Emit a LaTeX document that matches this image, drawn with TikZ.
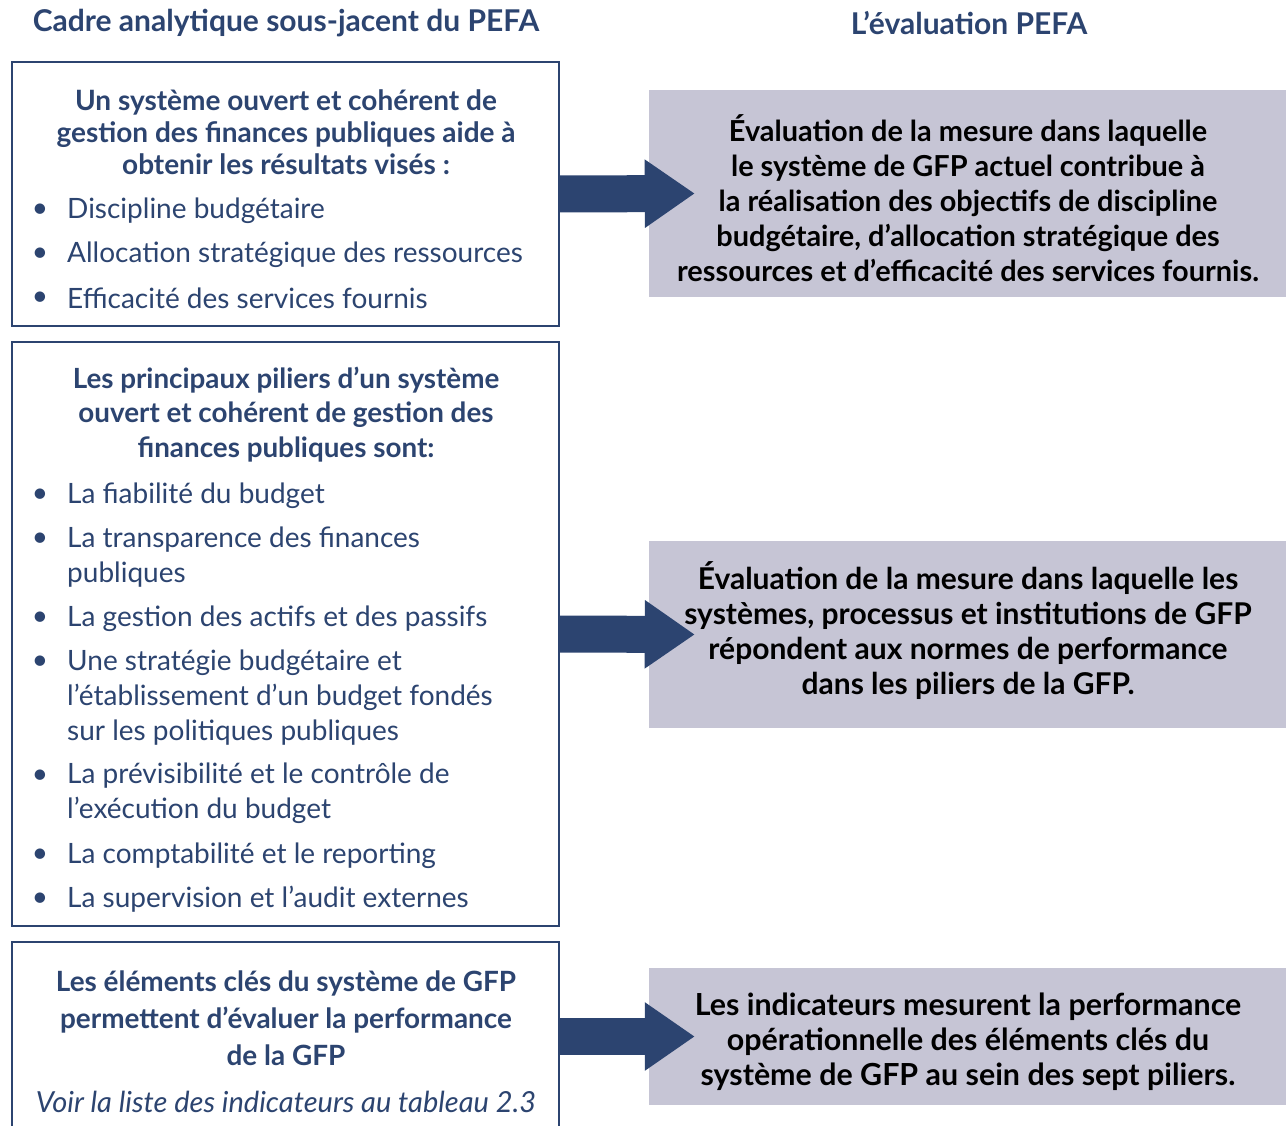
\documentclass[tikz,border=0pt]{standalone}
\usepackage{fontspec}
\setmainfont{Lato}
\usetikzlibrary{arrows.meta}
\definecolor{navy}{HTML}{2C4470}
\definecolor{panel}{HTML}{C6C5D5}
\begin{document}
\begin{tikzpicture}[x=1pt,y=-1pt,
  framebox/.style={draw=navy,line width=2pt,fill=white,inner sep=0pt},
  greybox/.style={fill=panel,inner sep=0pt},
  heading/.style={text=navy,font=\fontsize{30}{34}\selectfont\bfseries,inner sep=0pt},
  lead/.style={text=navy,align=center,inner sep=0pt},
  itemtext/.style={text=navy,align=left,anchor=west,inner sep=0pt,font=\fontsize{28}{35}\selectfont,yshift=-2.5pt},
  dot/.style={text=navy,inner sep=0pt,font=\fontsize{28}{35}\selectfont,yshift=-2.5pt},
  verdict/.style={text=black,align=center,inner sep=0pt},
  bigarrow/.style={navy,line width=37pt,-{Triangle[length=50pt,width=65pt]}}]
\useasboundingbox (0,0) rectangle (1286,1126);

% column headings
\node[heading] (hl) at (286,23) {Cadre analytique sous-jacent du PEFA};
\node[heading] (hr) at (969,23) {L’évaluation PEFA};

% left framed boxes
\node[framebox,minimum width=547pt,minimum height=264pt] (b1) at (285.5,194) {};
\node[framebox,minimum width=547pt,minimum height=584pt] (b2) at (285.5,634) {};
\node[framebox,minimum width=547pt,minimum height=220pt] (b3) at (285.5,1052) {};

% right grey boxes
\node[greybox,minimum width=640pt,minimum height=207pt] (g1) at (969,193.5) {};
\node[greybox,minimum width=640pt,minimum height=187pt] (g2) at (969,634.5) {};
\node[greybox,minimum width=640pt,minimum height=137pt] (g3) at (969,1036.5) {};

% box 1 content
\node[lead,font=\fontsize{28}{32}\selectfont\bfseries] (t1) at (286,132)
  {Un système ouvert et cohérent de\\gestion des finances publiques aide à\\obtenir les résultats visés :};
\node[dot] (d11) at (40,208) {•};
\node[itemtext] (i11) at (67,208) {Discipline budgétaire};
\node[dot] (d12) at (40,252) {•};
\node[itemtext] (i12) at (67,252) {Allocation stratégique des ressources};
\node[dot] (d13) at (40,296) {•};
\node[itemtext] (i13) at (67,296) {Efficacité des services fournis};

% box 2 content
\node[lead,font=\fontsize{27.8}{34.5}\selectfont\bfseries] (t2) at (286,414.5)
  {Les principaux piliers d’un système\\ouvert et cohérent de gestion des\\finances publiques sont:};
\node[dot] (d21) at (40,493) {•};
\node[itemtext] (i21) at (67,493) {La fiabilité du budget};
\node[dot] (d22) at (40,537) {•};
\node[itemtext] (i22) at (67,554.5) {La transparence des finances\\publiques};
\node[dot] (d23) at (40,616) {•};
\node[itemtext] (i23) at (67,616) {La gestion des actifs et des passifs};
\node[dot] (d24) at (40,660) {•};
\node[itemtext] (i24) at (67,695) {Une stratégie budgétaire et\\l’établissement d’un budget fondés\\sur les politiques publiques};
\node[dot] (d25) at (40,774) {•};
\node[itemtext] (i25) at (67,791) {La prévisibilité et le contrôle de\\l’exécution du budget};
\node[dot] (d26) at (40,853) {•};
\node[itemtext] (i26) at (67,853) {La comptabilité et le reporting};
\node[dot] (d27) at (40,897) {•};
\node[itemtext] (i27) at (67,897) {La supervision et l’audit externes};

% box 3 content
\node[lead,font=\fontsize{27.9}{37}\selectfont\bfseries] (t3) at (286,1018)
  {Les éléments clés du système de GFP\\permettent d’évaluer la performance\\de la GFP};
\node[lead,font=\fontsize{29}{32}\selectfont\itshape] (n3) at (286,1102)
  {Voir la liste des indicateurs au tableau 2.3};

% grey box texts
\node[verdict,font=\fontsize{28.9}{35}\selectfont\bfseries] (v1) at (968,198.5)
  {Évaluation de la mesure dans laquelle\\le système de GFP actuel contribue à\\la réalisation des objectifs de discipline\\budgétaire, d’allocation stratégique des\\ressources et d’efficacité des services fournis.};
\node[verdict,font=\fontsize{30}{35}\selectfont\bfseries] (v2) at (968,631)
  {Évaluation de la mesure dans laquelle les\\systèmes, processus et institutions de GFP\\répondent aux normes de performance\\dans les piliers de la GFP.};
\node[verdict,font=\fontsize{30.4}{35}\selectfont\bfseries] (v3) at (968,1041.5)
  {Les indicateurs mesurent la performance\\opérationnelle des éléments clés du\\système de GFP au sein des sept piliers.};

% connecting arrows
\draw[bigarrow] (b1.east) -- ([xshift=46pt]g1.west);
\draw[bigarrow] (b2.east) -- ([xshift=46pt]g2.west);
\draw[bigarrow] (g3.west -| b3.east) -- ([xshift=46pt]g3.west);
\end{tikzpicture}
\end{document}
